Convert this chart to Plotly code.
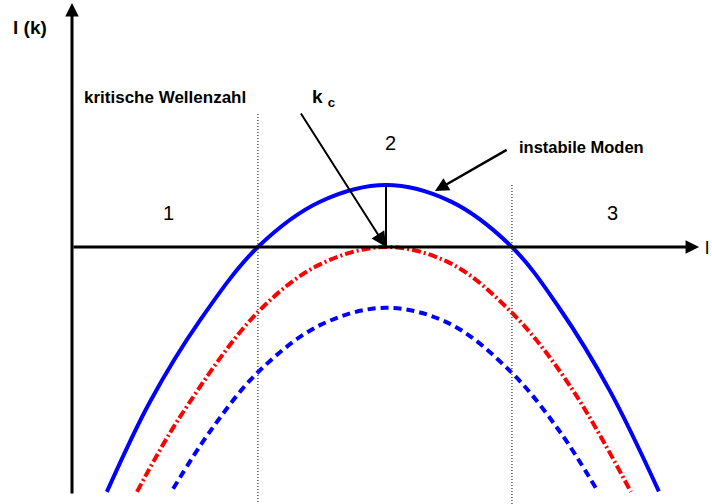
import plotly.graph_objects as go

# Growth rate l(k) versus wavenumber k (k_c = 1), three control-parameter states
k_above = [0.111, 0.248, 0.408, 0.592, 0.790, 1.000, 1.204, 1.401, 1.554, 1.713, 1.869]
l_above = [-3.95, -2.50, -1.18, 0.00, 0.73, 1.00, 0.74, 0.00, -1.00, -2.32, -3.94]

k_critical = [0.207, 0.344, 0.592, 0.790, 1.000, 1.204, 1.401, 1.586, 1.780]
l_critical = [-3.95, -2.74, -1.05, -0.28, 0.00, -0.26, -1.06, -2.24, -3.95]

k_below = [0.322, 0.439, 0.592, 0.790, 1.000, 1.204, 1.401, 1.554, 1.672]
l_below = [-3.90, -2.98, -2.02, -1.26, -0.98, -1.24, -2.03, -2.98, -3.92]

k_c = 1.0
k_band = [0.592, 1.401]          # edges of the unstable band
region_labels = ["1", "2", "3"]

FONT = "Liberation Sans, Arial, sans-serif"

fig = go.Figure()

fig.add_trace(go.Scatter(x=k_above, y=l_above, mode="lines",
                         line=dict(color="#0000ff", width=4, shape="spline", smoothing=1.0)))
fig.add_trace(go.Scatter(x=k_critical, y=l_critical, mode="lines",
                         line=dict(color="#ff0000", width=4, shape="spline", smoothing=1.0,
                                   dash="9px,3px,2px,3px")))
fig.add_trace(go.Scatter(x=k_below, y=l_below, mode="lines",
                         line=dict(color="#0000ff", width=4, shape="spline", smoothing=1.0,
                                   dash="8px,5px")))

# dotted band edges
fig.add_shape(type="line", x0=k_band[0], x1=k_band[0], y0=2.145, y1=-4.145,
              line=dict(color="#555555", width=1.5, dash="1px,2px"))
fig.add_shape(type="line", x0=k_band[1], x1=k_band[1], y0=max(l_above), y1=-4.145,
              line=dict(color="#555555", width=1.5, dash="1px,2px"))

# height of the maximum at k_c
fig.add_shape(type="line", x0=k_c, x1=k_c, y0=0, y1=max(l_above),
              line=dict(color="black", width=2))

arrows = [
    # vertical axis
    dict(x=0, y=3.935, ax=0, ay=-4.0, w=3, size=0.9),
    # horizontal axis
    dict(x=1.997, y=0, ax=0, ay=0, w=3, size=0.9),
    # pointer to k_c
    dict(x=k_c, y=0, ax=0.726, ay=2.177, w=2, size=1.5),
    # pointer to the unstable modes
    dict(x=1.156, y=0.903, ax=1.389, ay=1.581, w=2.5, size=1.1),
]
for a in arrows:
    fig.add_annotation(x=a["x"], y=a["y"], ax=a["ax"], ay=a["ay"],
                       xref="x", yref="y", axref="x", ayref="y",
                       text="", showarrow=True, arrowhead=2,
                       arrowsize=a["size"], arrowwidth=a["w"], arrowcolor="black")

texts = [
    dict(x=-0.134, y=3.548, text="<b>l (k)</b>", size=19, xanchor="center"),
    dict(x=2.010, y=0.0, text="l", size=19, xanchor="left"),
    dict(x=0.032, y=2.419, text="<b>kritische Wellenzahl</b>", size=17, xanchor="left"),
    dict(x=0.800, y=2.40, text="<b>k <sub>c</sub></b>", size=19, xanchor="center"),
    dict(x=1.417, y=1.613, text="<b>instabile Moden</b>", size=16.5, xanchor="left"),
    dict(x=0.306, y=0.548, text=region_labels[0], size=20, xanchor="center"),
    dict(x=1.013, y=1.677, text=region_labels[1], size=20, xanchor="center"),
    dict(x=1.720, y=0.548, text=region_labels[2], size=20, xanchor="center"),
]
for t in texts:
    fig.add_annotation(x=t["x"], y=t["y"], xref="x", yref="y", text=t["text"],
                       showarrow=False, xanchor=t["xanchor"], yanchor="middle",
                       font=dict(family=FONT, size=t["size"], color="black"))

fig.update_layout(
    width=712, height=504,
    margin=dict(l=0, r=0, t=0, b=0),
    paper_bgcolor="white", plot_bgcolor="white",
    showlegend=False,
    xaxis=dict(visible=False, range=[-0.2293, 2.0382], fixedrange=True),
    yaxis=dict(visible=False, range=[-4.145, 3.984], fixedrange=True),
)

fig.write_html("out.html")
